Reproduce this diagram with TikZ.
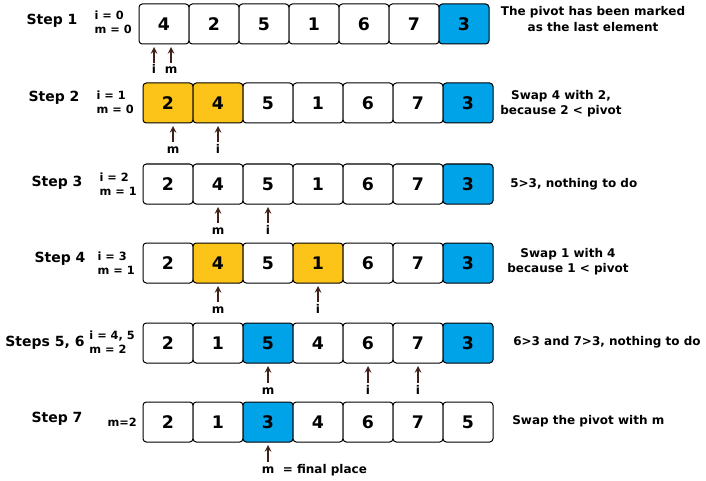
\documentclass[tikz,border=0pt]{standalone}
\usepackage{fontspec}
\setmainfont{DejaVu Sans}
\usetikzlibrary{positioning}

\definecolor{swapyellow}{RGB}{252,196,24}
\definecolor{pivotblue}{RGB}{0,162,232}
\definecolor{ptrbrown}{RGB}{64,32,24}

\tikzset{
  cell/.style={draw, line width=0.75pt, rounded corners=2.5pt, minimum width=37.5pt,
    minimum height=30pt, inner sep=0pt, outer sep=0pt,
    font=\fontsize{13}{15}\selectfont\bfseries},
  plain/.style={cell, fill=white},
  swap/.style={cell, fill=swapyellow},
  pivot/.style={cell, fill=pivotblue},
  steplbl/.style={font=\fontsize{10.5}{12}\selectfont\bfseries},
  counter/.style={anchor=east, align=left, inner sep=0pt,
    font=\fontsize{8.5}{10.5}\selectfont\bfseries},
  note/.style={align=center, inner sep=0pt,
    font=\fontsize{9}{11.5}\selectfont\bfseries},
  ptrlbl/.style={anchor=base, inner sep=1pt, text height=7pt,
    font=\fontsize{9}{10}\selectfont\bfseries},
  ptr/.style={->, >=stealth, line width=1.2pt, draw=ptrbrown, shorten >=2.25pt}
}

\begin{document}
\begin{tikzpicture}[x=0.75pt, y=-0.75pt]
  \useasboundingbox (0,0) rectangle (706,481);

  % the array, one row per step
  \foreach \r/\yt/\xl/\vals in {
      1/4/139/{4/plain,2/plain,5/plain,1/plain,6/plain,7/plain,3/pivot},
      2/83/143/{2/swap,4/swap,5/plain,1/plain,6/plain,7/plain,3/pivot},
      3/164/143/{2/plain,4/plain,5/plain,1/plain,6/plain,7/plain,3/pivot},
      4/243/143/{2/plain,4/swap,5/plain,1/swap,6/plain,7/plain,3/pivot},
      5/323/143/{2/plain,1/plain,5/pivot,4/plain,6/plain,7/plain,3/pivot},
      6/402/143/{2/plain,1/plain,3/pivot,4/plain,6/plain,7/plain,5/plain}}
    \foreach \v/\c [count=\k] in \vals
      \node[\c, name=b\r-\k] at ({\xl+25+50*(\k-1)}, {\yt+20}) {\v};

  % step names
  \node[steplbl] (s1) at (52,21) {Step 1};
  \node[steplbl] (s2) at (54,98) {Step 2};
  \node[steplbl] (s3) at (57,183) {Step 3};
  \node[steplbl] (s4) at (60,259) {Step 4};
  \node[steplbl] (s5) at (45,343) {Steps 5, 6};
  \node[steplbl] (s6) at (57,419) {Step 7};

  % values of i and m
  \node[counter] (c1) at (132,22) {i = 0\\m = 0};
  \node[counter] (c2) at (134,102) {i = 1\\m = 0};
  \node[counter] (c3) at (137,184) {i = 2\\m = 1};
  \node[counter] (c4) at (135,263) {i = 3\\m = 1};
  \node[counter] (c5) at (135,342) {i = 4, 5\\m = 2};
  \node[counter] (c6) at (137,422) {m=2};

  % pointers
  \foreach \p/\txt/\x/\y/\k in {i1/i/154/74/b1-1, m1/m/171/74/b1-1,
      m2/m/173/153/b2-1, i2/i/218/153/b2-2,
      m3/m/218/234/b3-2, i3/i/268/234/b3-3,
      m4/m/218/313/b4-2, i4/i/318/313/b4-4,
      m5/m/268/394/b5-3, i5/i/368/394/b5-5, j5/i/418/394/b5-6,
      m6/m/268/473/b6-3} {
    \node[ptrlbl] (\p) at (\x,\y) {\txt};
    \draw[ptr] (\p.north) -- (\p.north |- \k.south);
  }
  \node[ptrlbl, anchor=base west] (fp) at ([xshift=4pt]m6.base east) {= final place};

  % comments
  \node[note] (n1) at (593,19) {The pivot has been marked\\as the last element};
  \node[note] (n2) at (561,104) {Swap 4 with 2,\\because 2 < pivot};
  \node[note, anchor=west] (n3) at (510,184) {5>3, nothing to do};
  \node[note] (n4) at (568,262) {Swap 1 with 4\\because 1 < pivot};
  \node[note, anchor=west] (n5) at (513,342) {6>3 and 7>3, nothing to do};
  \node[note, anchor=west] (n6) at (512,421) {Swap the pivot with m};
\end{tikzpicture}
\end{document}
